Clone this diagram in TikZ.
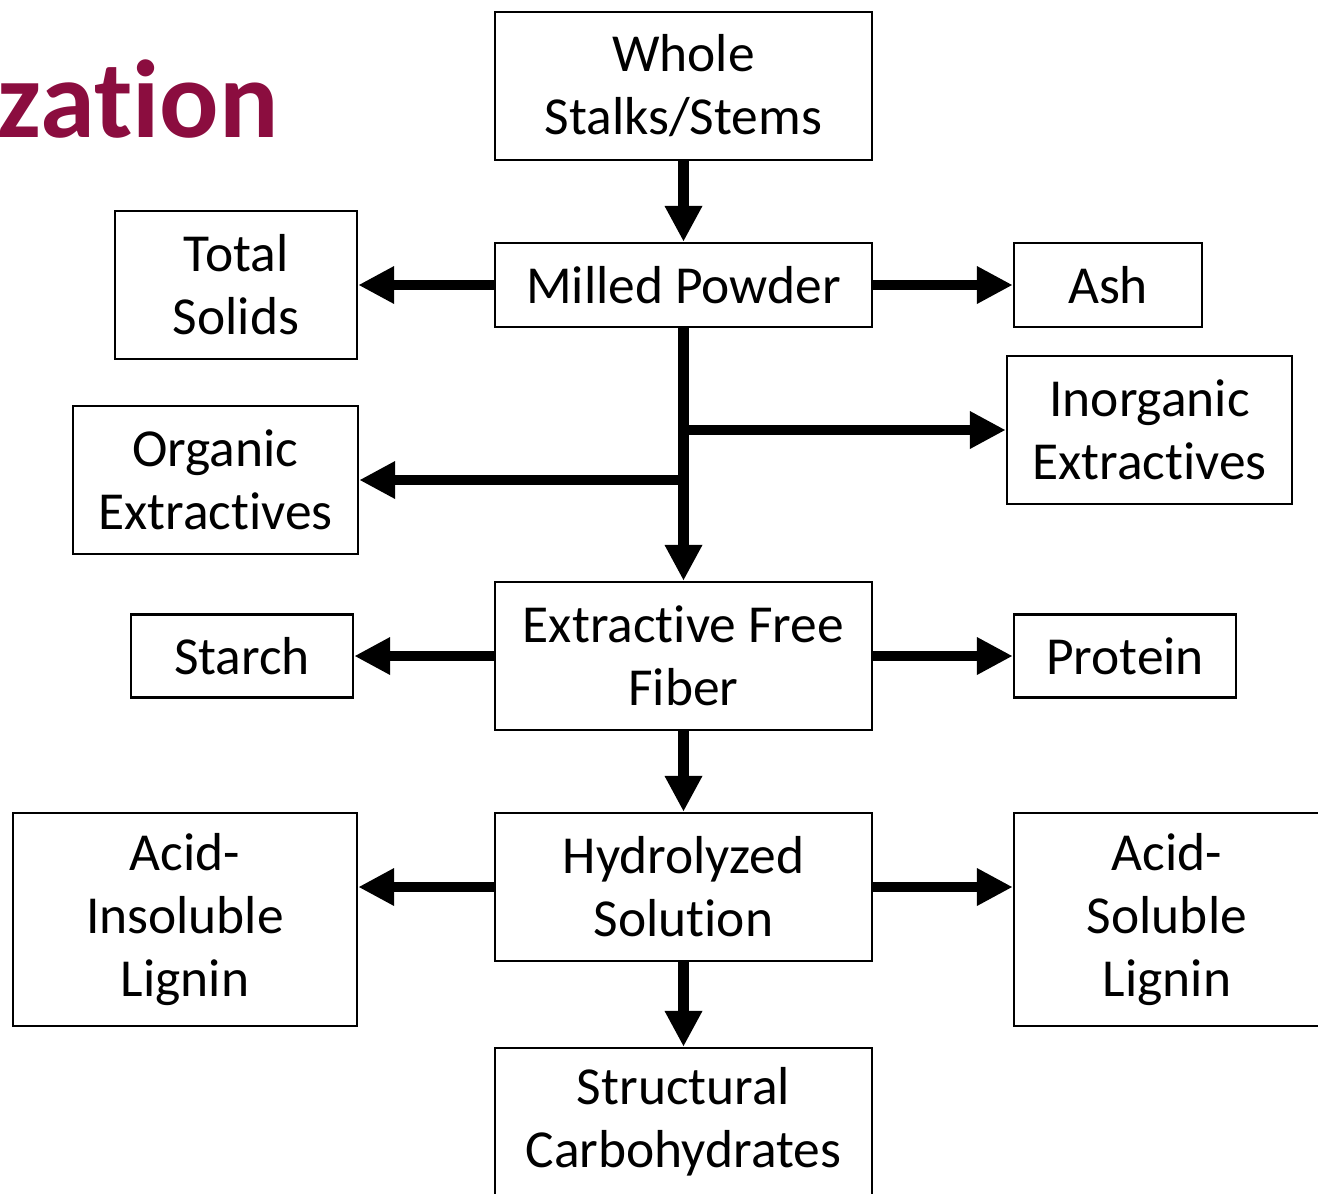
\documentclass[tikz,border=0pt]{standalone}
\usepackage{fontspec}
\setmainfont{Carlito}[Ligatures={NoCommon}]
\usepackage{xcolor}
\usetikzlibrary{arrows.meta}
\definecolor{titlered}{RGB}{139,13,63}

\begin{document}
\begin{tikzpicture}[x=0.01cm, y=-0.01cm]
    \tikzstyle{stepbox}=[draw,line width=0.7pt,align=center,inner sep=0pt,
        font=\fontsize{15.2}{17.9}\selectfont]
    \tikzstyle{flow}=[line width=3.1pt,-{Triangle[length=10.2pt,width=10pt]}]

    \clip (0,0) rectangle (1318,1193);
    \node[anchor=base west,text=titlered,inner sep=0pt,
        font=\fontsize{31.5}{36}\selectfont\bfseries] (title) at (-3,137) {zation};

    \node[stepbox,minimum width=377*0.01cm,minimum height=148*0.01cm] (whole) at (683.5,86) {Whole\\Stalks/Stems};
    \node[stepbox,minimum width=377*0.01cm,minimum height=84*0.01cm] (milled) at (683.5,285) {Milled Powder};
    \node[stepbox,minimum width=242*0.01cm,minimum height=148*0.01cm] (solids) at (236,285) {Total\\Solids};
    \node[stepbox,minimum width=188*0.01cm,minimum height=84*0.01cm] (ash) at (1108,285) {Ash};
    \node[stepbox,minimum width=285*0.01cm,minimum height=148*0.01cm] (inorg) at (1149.5,430) {Inorganic\\Extractives};
    \node[stepbox,minimum width=285*0.01cm,minimum height=148*0.01cm] (org) at (215.5,480) {Organic\\Extractives};
    \node[stepbox,minimum width=377*0.01cm,minimum height=148*0.01cm] (fiber) at (683.5,656) {Extractive Free\\Fiber};
    \node[stepbox,minimum width=222*0.01cm,minimum height=83*0.01cm] (starch) at (242,656) {Starch};
    \node[stepbox,minimum width=222*0.01cm,minimum height=83*0.01cm] (protein) at (1125,656) {Protein};
    \node[stepbox,minimum width=344*0.01cm,minimum height=213*0.01cm] (ail) at (185,919.5) {Acid-\\Insoluble\\Lignin};
    \node[stepbox,minimum width=377*0.01cm,minimum height=148*0.01cm] (hydro) at (683.5,887) {Hydrolyzed\\Solution};
    \node[stepbox,minimum width=306*0.01cm,minimum height=213*0.01cm] (asl) at (1167,919.5) {Acid-\\Soluble\\Lignin};
    \node[stepbox,minimum width=377*0.01cm,minimum height=148*0.01cm] (carbs) at (683.5,1122) {Structural\\Carbohydrates};

    \coordinate (split1) at (684,430);
    \coordinate (split2) at (684,480);

    \draw[flow] (whole) -- (milled);
    \draw[flow] (milled) -- (solids);
    \draw[flow] (milled) -- (ash);
    \draw[flow] (milled) -- (fiber);
    \draw[flow] (split1) -- (inorg);
    \draw[flow] (split2) -- (org);
    \draw[flow] (fiber) -- (starch);
    \draw[flow] (fiber) -- (protein);
    \draw[flow] (fiber) -- (hydro);
    \draw[flow] (hydro.west) -- (hydro.west -| ail.east);
    \draw[flow] (hydro.east) -- (hydro.east -| asl.west);
    \draw[flow] (hydro) -- (carbs);
\end{tikzpicture}
\end{document}
